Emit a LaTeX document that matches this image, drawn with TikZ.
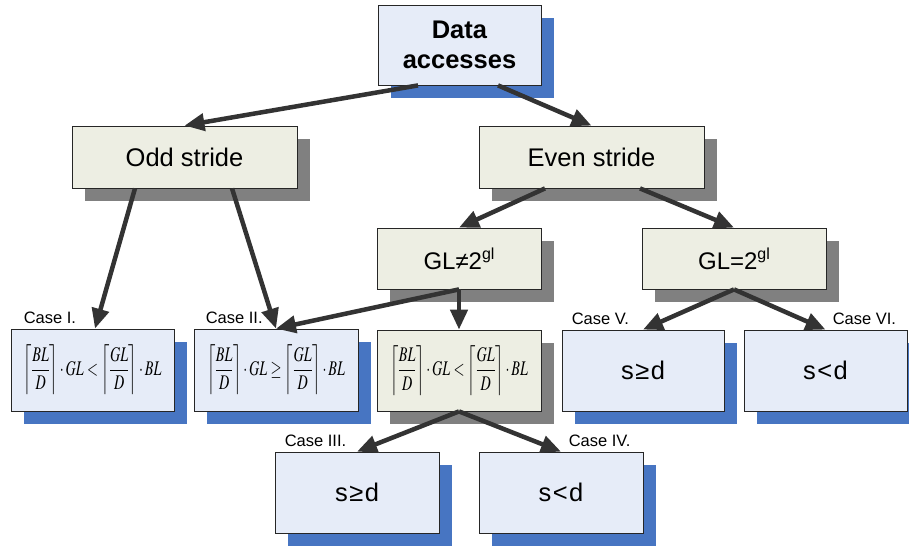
\documentclass[tikz,border=0pt]{standalone}
\usepackage{mathptmx}
\usepackage{fontspec}
\setmainfont{Liberation Sans}
\usepackage{graphicx}
\usetikzlibrary{shadows,arrows.meta,calc}

\definecolor{boxblue}{HTML}{E6ECF8}
\definecolor{boxbeige}{HTML}{EDEEE3}
\definecolor{shblue}{HTML}{4775C2}
\definecolor{shgray}{HTML}{808080}
\definecolor{linkgray}{HTML}{333333}

% ceiling-fraction inequalities, scaled to the box
\newcommand{\cfrac}[2]{\left\lceil\frac{#1}{#2}\right\rceil}
\newcommand{\ineq}[1]{\resizebox*{138pt}{50pt}{$\displaystyle #1$}}
\newcommand{\supgl}{\raisebox{0.42em}{\fontsize{16}{16}\selectfont gl}}
\newcommand{\rel}[1]{\kern1.5pt#1\kern1.5pt}

\begin{document}
\begin{tikzpicture}[x=1pt,y=-1pt,
  box/.style={draw=black!85, line width=0.8pt, inner sep=0pt, align=center,
              font=\fontsize{25.5}{31}\selectfont},
  bluebox/.style={box, fill=boxblue,
    general shadow={fill=shblue, shadow xshift=13pt, shadow yshift=-13pt}},
  beigebox/.style={box, fill=boxbeige,
    general shadow={fill=shgray, shadow xshift=13pt, shadow yshift=-13pt}},
  gltext/.style={font=\fontsize{24}{28}\selectfont},
  caselabel/.style={anchor=base west, inner sep=0pt, font=\fontsize{16.5}{18}\selectfont},
  link/.style={draw=linkgray, line width=4.5pt,
    -{Triangle[length=20pt,width=17pt]}},
]
\useasboundingbox (0,0) rectangle (909,549);

% boxes
\node[bluebox, minimum width=163pt, minimum height=80pt] (data) at (459.5,45)
  {\textbf{Data}\\[-1pt]\textbf{accesses}};
\node[beigebox, minimum width=225pt, minimum height=62pt] (odd) at (184.5,157) {Odd stride};
\node[beigebox, minimum width=225pt, minimum height=62pt] (even) at (591.5,157) {Even stride};
\node[beigebox, gltext, minimum width=164pt, minimum height=61pt] (glne) at (459,258.5) {GL≠2\supgl};
\node[beigebox, gltext, minimum width=184pt, minimum height=61pt] (gleq) at (734,258.5) {GL=2\supgl};

\node[bluebox, minimum width=163pt, minimum height=82pt] (c1) at (92.5,370)
  {\ineq{\cfrac{BL}{D}\cdot GL<\cfrac{GL}{D}\cdot BL}};
\node[bluebox, minimum width=164pt, minimum height=82pt] (c2) at (276,370)
  {\ineq{\cfrac{BL}{D}\cdot GL\geq\cfrac{GL}{D}\cdot BL}};
\node[beigebox, minimum width=164pt, minimum height=81pt] (mid) at (459,370.5)
  {\ineq{\cfrac{BL}{D}\cdot GL<\cfrac{GL}{D}\cdot BL}};
\node[bluebox, minimum width=162pt, minimum height=81pt] (c5) at (643,370.5) {s\rel{≥}d};
\node[bluebox, minimum width=163pt, minimum height=81pt] (c6) at (825.5,370.5) {s\rel{<}d};
\node[bluebox, minimum width=164pt, minimum height=81pt] (c3) at (357,492.5) {s\rel{≥}d};
\node[bluebox, minimum width=164pt, minimum height=81pt] (c4) at (561,492.5) {s\rel{<}d};

% case labels
\node[caselabel] (l1) at ($(c1.north west)+(13,-5)$) {Case I.};
\node[caselabel] (l2) at ($(c2.north west)+(12,-5)$) {Case II.};
\node[caselabel] (l3) at ($(c3.north west)+(10,-5)$) {Case III.};
\node[caselabel] (l4) at ($(c4.north west)+(90,-5)$) {Case IV.};
\node[caselabel] (l5) at ($(c5.north west)+(10,-5)$) {Case V.};
\node[caselabel] (l6) at ($(c6.north west)+(89,-5)$) {Case VI.};

% connectors
\draw[link] ($(data.south)+(-41.5,0)$) -- (odd.north);
\draw[link] ($(data.south)+(38.5,0)$) -- (even.north);
\draw[link] ($(odd.south)+(-49.5,0)$) -- ($(c1.north)+(2.5,0)$);
\draw[link] ($(odd.south)+(47.5,0)$) -- (c2.north);
\draw[link] ($(even.south)+(-46.5,0)$) -- (glne.north);
\draw[link] ($(even.south)+(48.5,0)$) -- (gleq.north);
\draw[link] (glne.south) -- (mid.north);
\draw[link] (glne.south) -- (c2.north);
\draw[link] (gleq.south) -- (c5.north);
\draw[link] (gleq.south) -- (c6.north);
\draw[link] (mid.south) -- (c3.north);
\draw[link] (mid.south) -- (c4.north);
\end{tikzpicture}
\end{document}
